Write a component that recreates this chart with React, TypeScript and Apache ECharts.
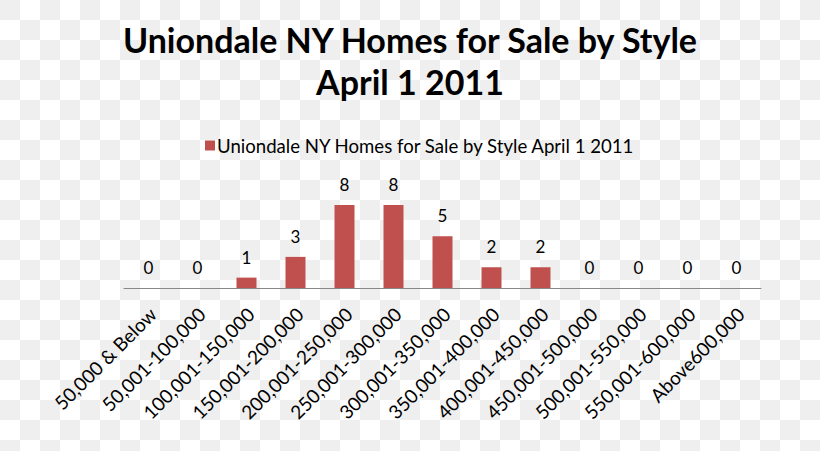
import React, { useEffect, useRef } from "react";
import * as echarts from "echarts";

const categories = [
  "50,000 & Below",
  "50,001-100,000",
  "100,001-150,000",
  "150,001-200,000",
  "200,001-250,000",
  "250,001-300,000",
  "300,001-350,000",
  "350,001-400,000",
  "400,001-450,000",
  "450,001-500,000",
  "500,001-550,000",
  "550,001-600,000",
  "Above600,000",
];
const values = [0, 0, 1, 3, 8, 8, 5, 2, 2, 0, 0, 0, 0];
const seriesName = "Uniondale NY Homes for Sale by Style April 1 2011";
const titleText = "Uniondale NY Homes for Sale by Style\nApril 1 2011";

const FONT = "Lato, 'Noto Sans', sans-serif";

export default function App() {
  const ref = useRef<HTMLDivElement>(null);
  useEffect(() => {
    if (!ref.current) return;
    const chart = echarts.init(ref.current, undefined, { renderer: "svg" });
    chart.setOption({
      animation: false,
      backgroundColor: "transparent",
      textStyle: { fontFamily: FONT },
      title: {
        text: titleText,
        left: "center",
        top: 13,
        textStyle: {
          fontFamily: FONT,
          fontSize: 34,
          fontWeight: "bold",
          color: "#000",
          lineHeight: 42,
        },
      },
      legend: {
        top: 131,
        left: 200,
        itemWidth: 10,
        itemHeight: 10,
        itemGap: 6,
        icon: "rect",
        textStyle: { fontFamily: FONT, fontSize: 18.6, color: "#000", padding: [0, 0, 0, -3] },
        data: [seriesName],
      },
      grid: { left: 124, right: 59, top: 205, bottom: 163 },
      xAxis: {
        type: "category",
        data: categories,
        axisLine: { lineStyle: { color: "#888", width: 1 } },
        axisTick: { show: false },
        axisLabel: {
          rotate: 45,
          interval: 0,
          margin: 27,
          fontFamily: FONT,
          fontSize: 19,
          color: "#000",
          padding: [0, -6, 0, 0],
        },
      },
      yAxis: {
        type: "value",
        min: 0,
        max: 8,
        show: false,
        splitLine: { show: false },
      },
      series: [
        {
          name: seriesName,
          type: "bar",
          data: values,
          barWidth: 20,
          itemStyle: { color: "#c0504d" },
          label: {
            show: true,
            position: "top",
            distance: 12,
            fontFamily: FONT,
            fontSize: 17,
            color: "#000",
          },
        },
      ],
    });
    return () => chart.dispose();
  }, []);
  return (
    <div
      style={{
        position: "absolute",
        left: 0,
        top: 0,
        width: 820,
        height: 451,
        background:
          "repeating-conic-gradient(#ffffff 0 25%, #efefef 0 50%) 0 0 / 40px 40px",
      }}
    >
      <div ref={ref} style={{ width: 820, height: 451 }} />
    </div>
  );
}
